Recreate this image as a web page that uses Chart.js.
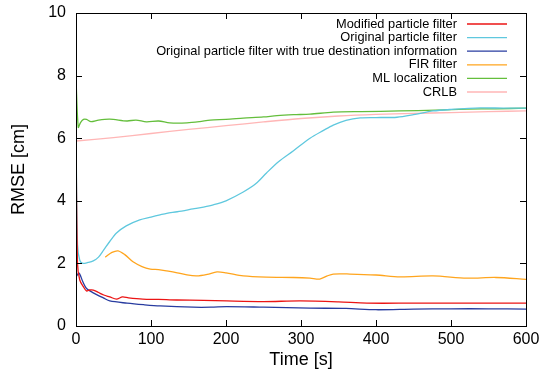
<!DOCTYPE html>
<html>
<head>
<meta charset="utf-8">
<script src="https://cdn.jsdelivr.net/npm/chart.js@4/dist/chart.umd.min.js"></script>
<style>
  body { margin: 0; background: #fff; }
  #wrap { width: 551px; height: 377px; }
</style>
</head>
<body>
<div id="wrap"><canvas id="myChart" width="551" height="377"></canvas></div>
<script>
// time [s] / RMSE [cm]
const modTime = [0, 2, 5, 10, 14, 18, 23, 30, 37, 45, 54, 62, 70, 89, 110, 134, 170, 201, 250, 299, 350, 388, 450, 500, 550, 600];
const modRmse = [6.1, 2.0, 1.47, 1.25, 1.12, 1.15, 1.15, 1.07, 0.99, 0.93, 0.86, 0.93, 0.9, 0.86, 0.85, 0.83, 0.82, 0.8, 0.78, 0.8, 0.77, 0.73, 0.73, 0.73, 0.73, 0.73];

const origTime = [0, 2, 5, 9, 16, 23, 30, 37, 45, 54, 67, 85, 100, 112, 121, 135, 156, 170, 183, 200, 223, 240, 254, 270, 290, 312, 330, 343, 360, 379, 400, 428, 450, 476, 500, 539, 570, 600];
const origRmse = [6.3, 2.6, 2.1, 2.0, 2.03, 2.08, 2.2, 2.43, 2.7, 2.97, 3.2, 3.39, 3.48, 3.55, 3.6, 3.65, 3.74, 3.8, 3.87, 4.0, 4.28, 4.55, 4.89, 5.25, 5.6, 6.0, 6.25, 6.42, 6.57, 6.65, 6.66, 6.67, 6.75, 6.87, 6.92, 6.97, 6.96, 6.96];

const trueTime = [0, 4, 9, 14, 23, 37, 45, 68, 90, 112, 156, 180, 201, 250, 312, 360, 400, 450, 500, 550, 600];
const trueRmse = [1.56, 1.69, 1.42, 1.2, 1.06, 0.89, 0.8, 0.73, 0.68, 0.64, 0.6, 0.6, 0.62, 0.6, 0.57, 0.56, 0.52, 0.54, 0.55, 0.55, 0.54];

const firTime = [39, 48, 56, 65, 76, 88, 99, 110, 121, 135, 148, 161, 175, 188, 200, 223, 254, 290, 312, 325, 335, 343, 365, 400, 432, 476, 521, 560, 600];
const firRmse = [2.2, 2.35, 2.4, 2.28, 2.05, 1.9, 1.82, 1.8, 1.76, 1.7, 1.63, 1.6, 1.65, 1.73, 1.7, 1.6, 1.56, 1.55, 1.53, 1.5, 1.6, 1.66, 1.66, 1.63, 1.57, 1.6, 1.53, 1.55, 1.49];

const mlTime = [0, 3, 6, 10, 14, 20, 30, 45, 68, 80, 94, 110, 125, 148, 165, 179, 200, 223, 250, 268, 290, 312, 343, 380, 432, 480, 521, 560, 600];
const mlRmse = [7.9, 6.35, 6.5, 6.6, 6.6, 6.53, 6.58, 6.61, 6.55, 6.58, 6.52, 6.55, 6.49, 6.49, 6.53, 6.58, 6.6, 6.64, 6.68, 6.72, 6.75, 6.77, 6.83, 6.85, 6.87, 6.9, 6.93, 6.94, 6.96];

const crlbTime = [0, 50, 100, 150, 200, 250, 300, 350, 400, 450, 500, 550, 600];
const crlbRmse = [5.91, 6.02, 6.15, 6.28, 6.4, 6.52, 6.63, 6.71, 6.76, 6.79, 6.82, 6.85, 6.87];

const seriesNames = [
  "Modified particle filter",
  "Original particle filter",
  "Original particle filter with true destination information",
  "FIR filter",
  "ML localization",
  "CRLB"
];
const seriesColors = ['rgb(235,20,20)', 'rgb(95,200,222)', 'rgb(40,60,160)', 'rgb(255,165,30)', 'rgb(100,190,60)', 'rgb(255,182,182)'];

const xTicks = [0, 100, 200, 300, 400, 500, 600];
const yTicks = [0, 2, 4, 6, 8, 10];

let toPoints = (ts, vs) => ts.map((t, i) => ({ x: t, y: vs[i] }));
const allSeries = [
  toPoints(modTime, modRmse),
  toPoints(origTime, origRmse),
  toPoints(trueTime, trueRmse),
  toPoints(firTime, firRmse),
  toPoints(mlTime, mlRmse),
  toPoints(crlbTime, crlbRmse)
];

// gnuplot-like frame with inward ticks and a right-aligned key
const framePlugin = {
  id: 'frame',
  afterDraw(chart) {
    const ctx = chart.ctx;
    const a = chart.chartArea;
    const xs = chart.scales.x, ys = chart.scales.y;
    ctx.save();
    ctx.strokeStyle = '#000';
    ctx.lineWidth = 1;
    ctx.strokeRect(a.left + 0.5, a.top + 0.5, a.right - a.left, a.bottom - a.top);
    ctx.beginPath();
    xTicks.forEach(v => {
      const px = Math.round(xs.getPixelForValue(v)) + 0.5;
      ctx.moveTo(px, a.bottom); ctx.lineTo(px, a.bottom - 6);
      ctx.moveTo(px, a.top); ctx.lineTo(px, a.top + 6);
    });
    yTicks.forEach(v => {
      const py = Math.round(ys.getPixelForValue(v)) + 0.5;
      ctx.moveTo(a.left, py); ctx.lineTo(a.left + 6, py);
      ctx.moveTo(a.right, py); ctx.lineTo(a.right - 6, py);
    });
    ctx.stroke();

    // key
    ctx.font = '12.8px "Liberation Sans", Arial, sans-serif';
    ctx.textAlign = 'right';
    ctx.textBaseline = 'middle';
    chart.data.datasets.forEach((ds, i) => {
      const y = 24 + i * 13.6;
      ctx.fillStyle = '#000';
      ctx.fillText(ds.label, 457, y);
      ctx.strokeStyle = ds.borderColor;
      ctx.lineWidth = 1.3;
      ctx.beginPath();
      ctx.moveTo(467, y); ctx.lineTo(507, y);
      ctx.stroke();
    });
    ctx.restore();
  }
};

let ctx = document.getElementById('myChart').getContext('2d');
let chart = new Chart(ctx, {
  type: 'line',
  data: {
    datasets: allSeries.map((pts, i) => ({
      label: seriesNames[i],
      data: pts,
      borderColor: seriesColors[i],
      backgroundColor: seriesColors[i],
      borderWidth: 1.3,
      pointRadius: 0,
      tension: 0.3,
      fill: false
    }))
  },
  options: {
    responsive: false,
    animation: false,
    layout: { padding: { top: 13, right: 25, left: 0, bottom: 0 } },
    plugins: { legend: { display: false }, tooltip: { enabled: false } },
    scales: {
      x: {
        type: 'linear', min: 0, max: 600,
        afterFit: s => { s.height = 51; s.paddingLeft = 0; s.paddingRight = 0; },
        afterBuildTicks: s => { s.ticks = xTicks.map(v => ({ value: v })); },
        grid: { display: false, drawTicks: false },
        border: { display: false },
        ticks: { color: '#000', padding: 4, font: { family: '"Liberation Sans", Arial, sans-serif', size: 16 } },
        title: { display: true, text: 'Time [s]', color: '#000', padding: { top: 0, bottom: 6 }, font: { family: '"Liberation Sans", Arial, sans-serif', size: 18 } }
      },
      y: {
        type: 'linear', min: 0, max: 10,
        afterFit: s => { s.width = 76; s.paddingTop = 0; s.paddingBottom = 0; },
        afterBuildTicks: s => { s.ticks = yTicks.map(v => ({ value: v })); },
        grid: { display: false, drawTicks: false },
        border: { display: false },
        ticks: { color: '#000', padding: 10, font: { family: '"Liberation Sans", Arial, sans-serif', size: 16 } },
        title: { display: true, text: 'RMSE [cm]', color: '#000', padding: { top: 8, bottom: 0 }, font: { family: '"Liberation Sans", Arial, sans-serif', size: 18 } }
      }
    }
  },
  plugins: [framePlugin]
});
</script>
</body>
</html>
